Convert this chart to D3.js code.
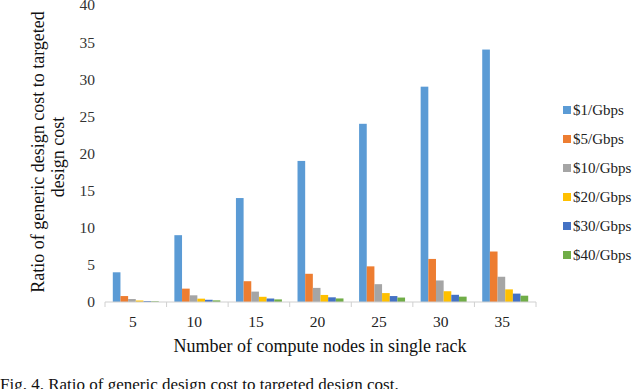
<!DOCTYPE html>
<html>
<head>
<meta charset="utf-8">
<script src="https://cdn.jsdelivr.net/npm/d3@7"></script>
<style>
  body { margin: 0; background: #fff; }
  svg { font-family: "Liberation Serif", "Times New Roman", serif; }
</style>
</head>
<body>
<svg id="chart" width="640" height="389"></svg>
<script>
// values
var categories = ["5", "10", "15", "20", "25", "30", "35"];
var seriesNames = ["$1/Gbps", "$5/Gbps", "$10/Gbps", "$20/Gbps", "$30/Gbps", "$40/Gbps"];
var s1 = [4, 9, 14, 19, 24, 29, 34];
var s5 = [0.8, 1.8, 2.8, 3.8, 4.8, 5.8, 6.8];
var s10 = [0.4, 0.9, 1.4, 1.9, 2.4, 2.9, 3.4];
var s20 = [0.2, 0.45, 0.7, 0.95, 1.2, 1.45, 1.7];
var s30 = [0.13, 0.3, 0.47, 0.63, 0.8, 0.97, 1.13];
var s40 = [0.1, 0.22, 0.35, 0.48, 0.6, 0.72, 0.85];
var yTicks = [0, 5, 10, 15, 20, 25, 30, 35, 40];
var colors = ["#5B9BD5", "#ED7D31", "#A5A5A5", "#FFC000", "#4472C4", "#70AD47"];

var allSeries = [s1, s5, s10, s20, s30, s40];
var data = categories.map(function(c, i) {
    return { cat: c, values: allSeries.map(function(s, j) { return { key: seriesNames[j], value: s[i] }; }) };
});

var svg = d3.select("#chart");
var margin = { left: 105, top: 5, right: 104, bottom: 87 };
var width = 640 - margin.left - margin.right;
var height = 389 - margin.top - margin.bottom;
var g = svg.append("g").attr("transform", "translate(" + margin.left + "," + margin.top + ")");

var x0 = d3.scaleBand().domain(categories).range([0, width]).padding(0);
var gap = 7.8;
var x1 = d3.scaleBand().domain(seriesNames).range([gap, x0.bandwidth() - gap]).padding(0);
var y = d3.scaleLinear().domain([0, 40]).range([height, 0]);
var z = d3.scaleOrdinal().domain(seriesNames).range(colors);

// y tick labels (no axis line)
g.append("g")
    .selectAll("text")
    .data(yTicks)
    .enter().append("text")
    .attr("x", -10)
    .attr("y", function(d) { return y(d); })
    .attr("dy", "0.35em")
    .attr("text-anchor", "end")
    .attr("font-size", 15.5)
    .attr("fill", "#333")
    .text(function(d) { return d; });

// bars
g.append("g")
    .selectAll("g")
    .data(data)
    .enter().append("g")
    .attr("transform", function(d) { return "translate(" + x0(d.cat) + ",0)"; })
    .selectAll("rect")
    .data(function(d) { return d.values; })
    .enter().append("rect")
    .attr("x", function(d) { return x1(d.key); })
    .attr("y", function(d) { return y(d.value); })
    .attr("width", x1.bandwidth())
    .attr("height", function(d) { return height - y(d.value); })
    .attr("fill", function(d) { return z(d.key); });

// x axis
var xAxis = g.append("g")
    .attr("transform", "translate(0," + height + ")");
xAxis.append("line")
    .attr("x1", 0).attr("x2", width)
    .attr("stroke", "#d0d0d0").attr("stroke-width", 1.2);
var bounds = categories.map(function(c) { return x0(c); }).concat([width]);
xAxis.selectAll("line.tick")
    .data(bounds)
    .enter().append("line")
    .attr("class", "tick")
    .attr("x1", function(d) { return d; }).attr("x2", function(d) { return d; })
    .attr("y1", 0).attr("y2", 5)
    .attr("stroke", "#d0d0d0");
xAxis.selectAll("text")
    .data(categories)
    .enter().append("text")
    .attr("x", function(d) { return x0(d) + x0.bandwidth() / 2 - 3; })
    .attr("y", 20)
    .attr("dy", "0.35em")
    .attr("text-anchor", "middle")
    .attr("font-size", 15.5)
    .attr("fill", "#222")
    .text(function(d) { return d; });

// axis titles
svg.append("text")
    .attr("x", 320).attr("y", 346)
    .attr("dy", "0.35em")
    .attr("text-anchor", "middle")
    .attr("font-size", 18)
    .attr("fill", "#111")
    .text("Number of compute nodes in single rack");

svg.append("text")
    .attr("transform", "translate(38,152) rotate(-90)")
    .attr("dy", "0.35em")
    .attr("text-anchor", "middle")
    .attr("font-size", 18)
    .attr("fill", "#111")
    .text("Ratio of generic design cost to targeted");
svg.append("text")
    .attr("transform", "translate(58,157) rotate(-90)")
    .attr("dy", "0.35em")
    .attr("text-anchor", "middle")
    .attr("font-size", 18)
    .attr("fill", "#111")
    .text("design cost");

// legend
var legend = svg.append("g")
    .selectAll("g")
    .data(seriesNames)
    .enter().append("g")
    .attr("transform", function(d, i) { return "translate(563," + (110 + i * 29) + ")"; });
legend.append("rect")
    .attr("x", 0).attr("y", -4)
    .attr("width", 8).attr("height", 8)
    .attr("fill", z);
legend.append("text")
    .attr("x", 10)
    .attr("dy", "0.35em")
    .attr("font-size", 15)
    .attr("fill", "#222")
    .text(function(d) { return d; });

// caption
svg.append("text")
    .attr("x", 0).attr("y", 384)
    .attr("dy", "0.35em")
    .attr("font-size", 17)
    .attr("fill", "#111")
    .text("Fig. 4. Ratio of generic design cost to targeted design cost.");
</script>
</body>
</html>
